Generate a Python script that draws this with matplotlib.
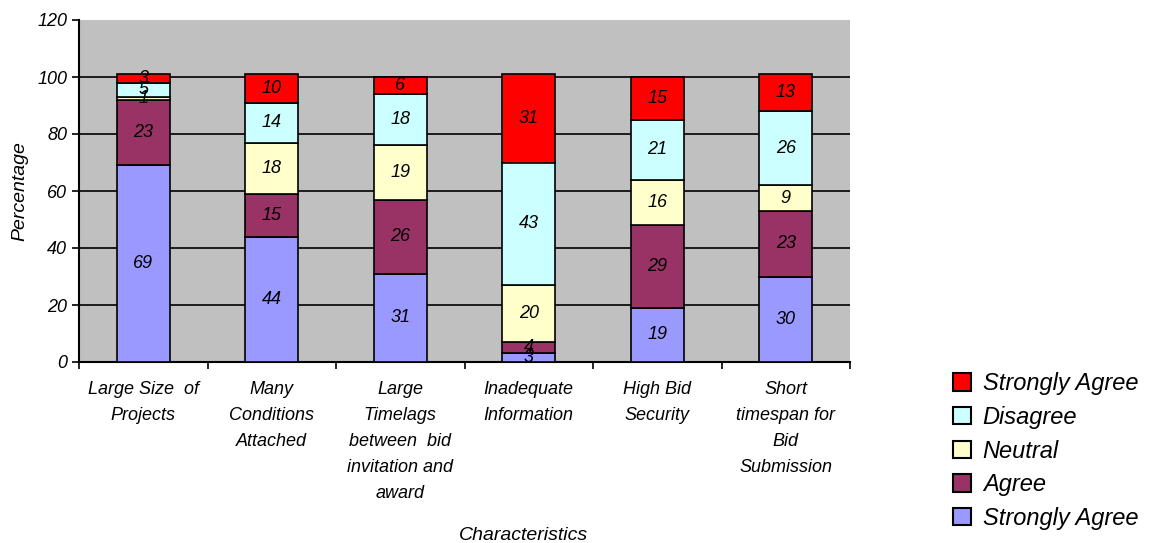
import numpy as np
import matplotlib.pyplot as plt
from matplotlib.patches import Patch

plt.rcParams['font.family'] = ['Liberation Sans', 'DejaVu Sans']
plt.rcParams['font.style'] = 'italic'

categories = ["Large Size  of\nProjects",
              "Many\nConditions\nAttached",
              "Large\nTimelags\nbetween  bid\ninvitation and\naward",
              "Inadequate\nInformation",
              "High Bid\nSecurity",
              "Short\ntimespan for\nBid\nSubmission"]

strongly_agree = [69, 44, 31, 3, 19, 30]
agree = [23, 15, 26, 4, 29, 23]
neutral = [1, 18, 19, 20, 16, 9]
disagree = [5, 14, 18, 43, 21, 26]
strongly_disagree = [3, 10, 6, 31, 15, 13]

series = [strongly_agree, agree, neutral, disagree, strongly_disagree]
names = ["Strongly Agree", "Agree", "Neutral", "Disagree", "Strongly Agree"]
colors = ["#9999FF", "#993366", "#FFFFCC", "#CCFFFF", "#FF0000"]

fig = plt.figure(figsize=(11.68, 5.43), dpi=100)
ax = fig.add_axes([79 / 1168, 1 - 362 / 543, 771 / 1168, 342 / 543])
ax.set_facecolor("#C0C0C0")

x = np.arange(len(categories))
bottom = np.zeros(len(categories))
for vals, col in zip(series, colors):
    vals = np.array(vals, dtype=float)
    ax.bar(x, vals, 0.41, bottom=bottom, color=col, edgecolor="black",
           linewidth=1.2, zorder=3)
    for xi, b, v in zip(x, bottom, vals):
        ax.text(xi, b + v / 2, f"{v:g}", ha="center", va="center",
                fontsize=13, zorder=4)
    bottom += vals

ax.set_xlim(-0.5, len(categories) - 0.5)
ax.set_ylim(0, 120)
ax.set_yticks(range(0, 121, 20))
ax.tick_params(axis="y", labelsize=13, length=5, width=1.2, direction="out")
for gy in range(20, 101, 20):
    ax.axhline(gy, color="black", linewidth=1.2, zorder=1)

# category labels sit under the bars, tick marks between categories
ax.set_xticks(x)
ax.set_xticklabels(categories, fontsize=13, linespacing=1.68, va="top")
ax.tick_params(axis="x", length=0, pad=14)
ax.set_xticks(np.arange(-0.5, len(categories)), minor=True)
ax.tick_params(axis="x", which="minor", length=5, width=1.2, direction="out")

for side in ["top", "right"]:
    ax.spines[side].set_visible(False)
for side in ["left", "bottom"]:
    ax.spines[side].set_linewidth(1.5)

ax.set_ylabel("Percentage", fontsize=14, labelpad=6)
fig.text(523 / 1168, 1 - 535 / 543, "Characteristics", ha="center",
         va="center", fontsize=14)

handles = [Patch(facecolor=c, edgecolor="black", linewidth=1.5, label=n)
           for c, n in zip(colors, names)][::-1]
fig.legend(handles=handles, loc="center left",
           bbox_to_anchor=(932 / 1168, 1 - 451 / 543), frameon=False,
           fontsize=17, handlelength=0.75, handleheight=0.75,
           labelspacing=0.45, handletextpad=0.5)

fig.savefig("out.png", dpi=100)
